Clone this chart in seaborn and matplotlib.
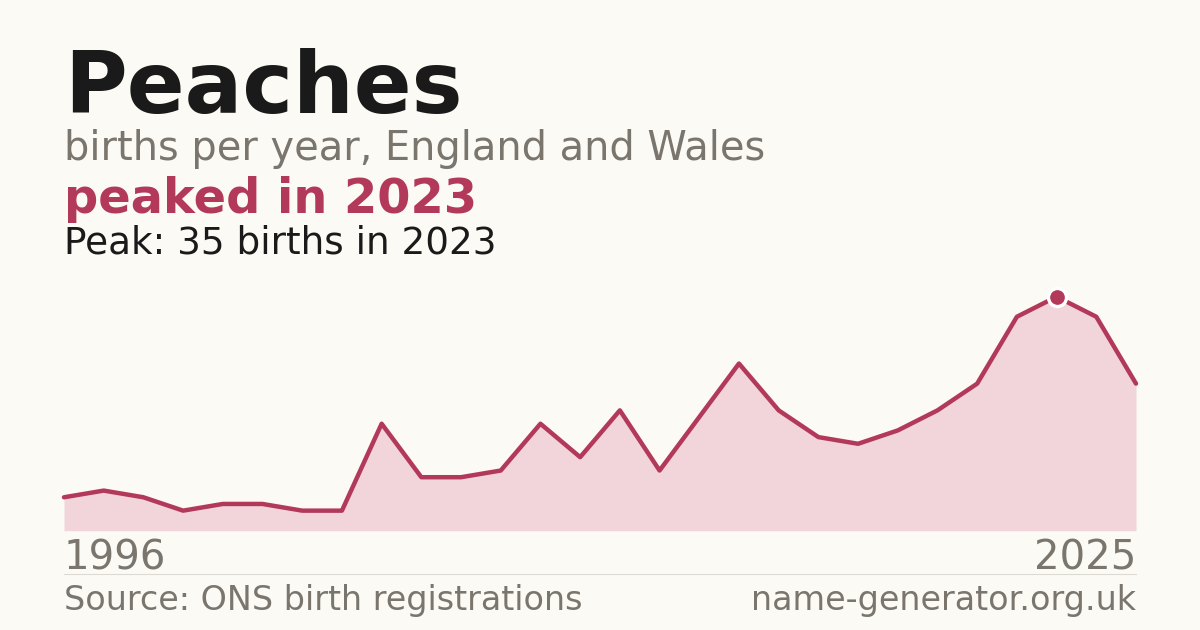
import matplotlib
matplotlib.use("Agg")
import matplotlib.pyplot as plt
import seaborn as sns
import pandas as pd

# ---- data ----
years = [1996, 1997, 1998, 1999, 2000, 2001, 2002, 2004, 2005, 2006,
         2007, 2008, 2009, 2010, 2011, 2012, 2013, 2014, 2015, 2016,
         2017, 2018, 2019, 2020, 2022, 2023, 2024, 2025]
births = [5, 6, 5, 3, 4, 4, 3, 3, 16, 8,
          8, 9, 16, 11, 18, 9, 17, 25, 18, 14,
          13, 15, 18, 22, 32, 35, 32, 22]

title = "Peaches"
subtitle = "births per year, England and Wales"
headline = "peaked in 2023"
peak_note = "Peak: 35 births in 2023"
source = "Source: ONS birth registrations"
site = "name-generator.org.uk"

# ---- style ----
BG = "#fbfaf5"
RED = "#b3395a"
FILL = "#f1d5da"
GRAY = "#7a756d"
DARK = "#1a1a1a"

sns.set_theme(style="white")
plt.rcParams["font.family"] = ["DejaVu Sans"]

W, H = 1200, 630
fig = plt.figure(figsize=(12, 6.3), dpi=100, facecolor=BG)

def fx(px):
    return px / W

def fy(py):
    return 1 - py / H

x0, x1 = 64, 1136
ybot, ytop = 530.7, 273.3
ax = fig.add_axes([fx(x0), fy(ybot), fx(x1 - x0), (ybot - ytop) / H])
ax.set_facecolor(BG)

df = pd.DataFrame({"idx": range(len(years)), "year": years, "births": births})

ax.fill_between(df["idx"], 0, df["births"], color=FILL, linewidth=0, zorder=1)
sns.lineplot(data=df, x="idx", y="births", ax=ax, color=RED, linewidth=3.2,
             zorder=2, clip_on=False)

pk = df["births"].idxmax()
ax.plot([df.loc[pk, "idx"]], [df.loc[pk, "births"]], marker="o", markersize=13,
        markerfacecolor=RED, markeredgecolor="white", markeredgewidth=2.4,
        zorder=3, clip_on=False)

ax.set_xlim(0, len(years) - 1)
ax.set_ylim(0, 38.5)
ax.set_xticks([])
ax.set_yticks([])
ax.set_xlabel("")
ax.set_ylabel("")
for s in ax.spines.values():
    s.set_visible(False)

# ---- texts ----
fig.text(fx(64), fy(112.7), title, fontsize=61.6, fontweight="bold", color=DARK, va="baseline", ha="left")
fig.text(fx(64), fy(160), subtitle, fontsize=28.7, color=GRAY, va="baseline", ha="left")
fig.text(fx(64), fy(213), headline, fontsize=34.5, fontweight="bold", color=RED, va="baseline", ha="left")
fig.text(fx(64), fy(253), peak_note, fontsize=26.9, color=DARK, va="baseline", ha="left")

fig.text(fx(64), fy(569.3), str(years[0]), fontsize=28.9, color=GRAY, va="baseline", ha="left")
fig.text(fx(1136), fy(569.3), str(years[-1]), fontsize=28.9, color=GRAY, va="baseline", ha="right")

fig.add_artist(plt.Line2D([fx(64), fx(1136)], [fy(574), fy(574)], color="#dddad3", linewidth=0.8))

fig.text(fx(64), fy(610), source, fontsize=24, color=GRAY, va="baseline", ha="left")
fig.text(fx(1136), fy(610), site, fontsize=24, color=GRAY, va="baseline", ha="right")

fig.savefig("out.png", dpi=100, facecolor=BG)
